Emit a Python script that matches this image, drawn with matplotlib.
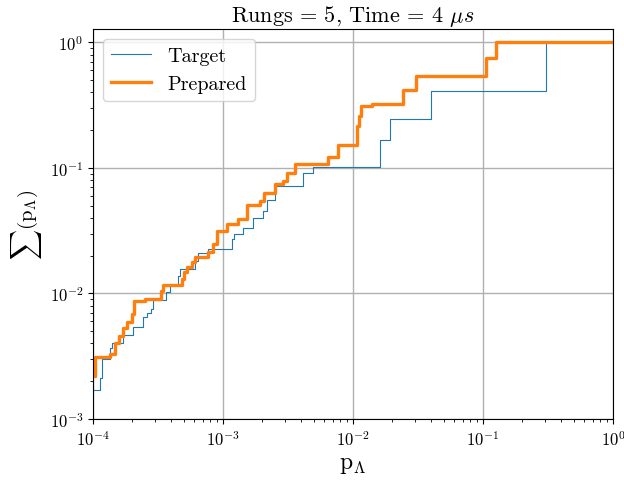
import numpy as np
import matplotlib
matplotlib.use("Agg")
import matplotlib.pyplot as plt

plt.rcParams['font.family'] = 'serif'
plt.rcParams['font.serif'] = ['cmr10']
plt.rcParams['mathtext.fontset'] = 'cm'
plt.rcParams['axes.formatter.use_mathtext'] = True

# step points: probability at which the cumulative sum rises, and the new sum
target_p = [9e-5, 1.132e-4, 1.173e-4, 1.351e-4, 1.392e-4, 1.701e-4, 2.019e-4, 2.423e-4,
            2.587e-4, 2.792e-4, 2.908e-4, 3.640e-4, 3.906e-4, 4.477e-4, 4.664e-4,
            6.081e-4, 6.448e-4, 7.69e-4, 1.165e-3, 1.213e-3, 1.43e-3, 1.707e-3,
            2.037e-3, 2.163e-3, 2.506e-3, 4.133e-3, 4.934e-3, 1.627e-2, 1.918e-2,
            3.963e-2, 0.3034, 1.0]
target_cum = [0.001696, 0.002114, 0.003034, 0.003700, 0.004018, 0.004653, 0.005418, 0.006439,
              0.006966, 0.007497, 0.008843, 0.01030, 0.01171, 0.01366, 0.01562,
              0.01819, 0.02083, 0.02254, 0.02742, 0.02969, 0.03295, 0.03959,
              0.04550, 0.05537, 0.07121, 0.09091, 0.1020, 0.1665, 0.2447,
              0.4071, 1.0, 1.0]

prepared_p = [9e-5, 1.036e-4, 1.351e-4, 1.476e-4, 1.594e-4, 1.710e-4, 1.816e-4, 2.005e-4,
              2.077e-4, 2.51e-4, 3.332e-4, 3.470e-4, 4.806e-4, 5.006e-4, 5.306e-4,
              5.736e-4, 6.081e-4, 7.69e-4, 8.408e-4, 8.928e-4, 1.066e-3, 1.308e-3,
              1.518e-3, 1.921e-3, 2.074e-3, 2.506e-3, 2.902e-3, 3.082e-3, 3.569e-3,
              6.436e-3, 7.685e-3, 1.075e-2, 1.114e-2, 1.148e-2, 1.402e-2, 2.427e-2,
              3.076e-2, 0.1049, 0.1268, 1.0]
prepared_cum = [0.002205, 0.003125, 0.003284, 0.004018, 0.004594, 0.005261, 0.005981, 0.006839,
                0.008730, 0.009006, 0.01049, 0.01171, 0.01300, 0.01486, 0.01612,
                0.01786, 0.01936, 0.02145, 0.02471, 0.03119, 0.03566, 0.03908,
                0.05053, 0.05466, 0.06297, 0.07428, 0.07889, 0.09091, 0.1072,
                0.1213, 0.1519, 0.2165, 0.2601, 0.3090, 0.3224, 0.4192,
                0.5419, 0.7497, 1.0, 1.0]

fig = plt.figure(figsize=(6.24, 4.81), dpi=100)
ax = fig.add_axes([93 / 624, 1 - 420 / 481, 520 / 624, 390 / 481])

ax.step(target_p, target_cum, where='post', color='tab:blue', lw=0.8, label='Target')
ax.step(prepared_p, prepared_cum, where='post', color='tab:orange', lw=2.4, label='Prepared')

ax.set_xscale('log')
ax.set_yscale('log')
ax.set_xlim(1e-4, 1)
ax.set_ylim(1e-3, 1.28)
ax.grid(True, which='major', color='#b0b0b0', lw=1)
ax.tick_params(labelsize=12)

ax.set_title(r'Rungs = 5, Time = 4 $\mu s$', fontsize=16)
ax.set_xlabel(r'$\mathrm{p}_\Lambda$', fontsize=17)
ax.set_ylabel(r'$\sum(\mathrm{p}_\Lambda)$', fontsize=15)
ax.legend(loc='upper left', fontsize=14.5)

fig.savefig('out.png', dpi=100)
